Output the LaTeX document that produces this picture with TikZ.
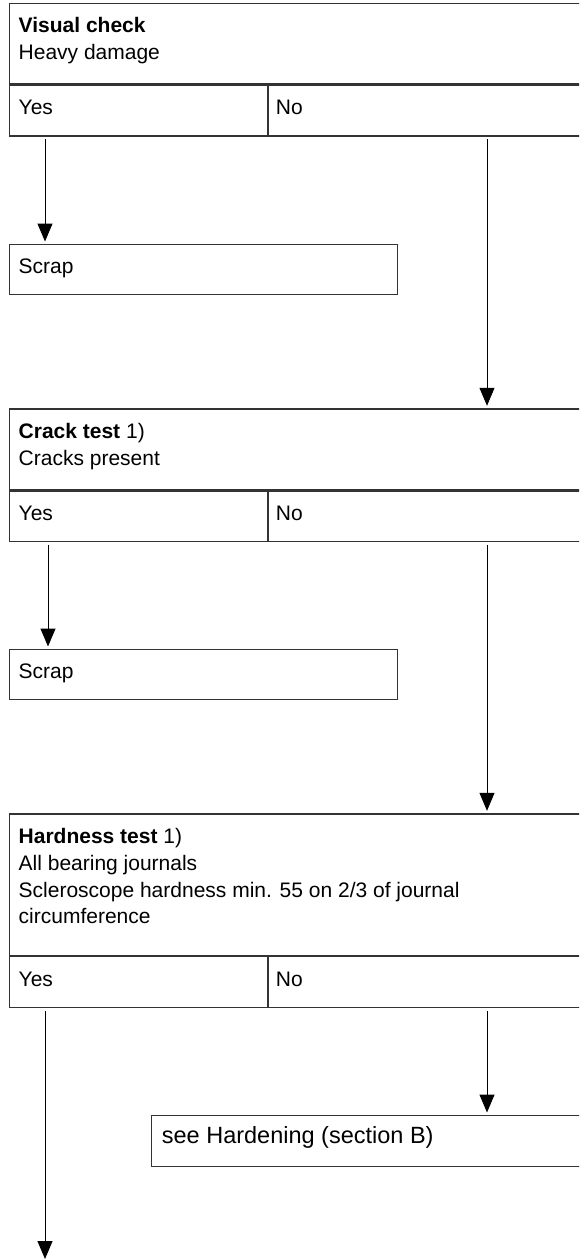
\documentclass[tikz,border=0pt]{standalone}
\usepackage{fontspec}
\setmainfont{Liberation Sans}
\usetikzlibrary{arrows.meta}
\tikzset{
  cell/.style 2 args={draw=black!80,line width=1.2pt,inner sep=0pt,anchor=north west,minimum width=#1pt,minimum height=#2pt},
  txt/.style={anchor=base west,inner sep=0pt,font=\fontsize{21}{26.7}\selectfont},
  arr/.style={line width=1pt,-{Triangle[width=15pt,length=18pt]},shorten <=2.5pt,shorten >=2.5pt}
}
\begin{document}
\begin{tikzpicture}[x=1pt,y=-1pt]
        \useasboundingbox (0,0) rectangle (579,1260);
        \clip (0,0) rectangle (579,1260);
        \coordinate (L) at (45,0);
        \coordinate (L2) at (48,0);
        \coordinate (R) at (487,0);
        \coordinate (out) at (45,1259);
        % visual check
        \node[cell={581.5}{80.6}] (vc) at (8.5,2.7) {};
        \node[cell={258.5}{51}] (vcy) at (vc.south west) {};
        \node[cell={323}{51}] (vcn) at (vcy.north east) {};
        \node[txt] (vct) at ([shift={(10,30)}]vc.north west) {\textbf{Visual check}};
        \node[txt] (vcd) at ([shift={(10,56.7)}]vc.north west) {Heavy damage};
        \node[txt] (vcyt) at ([shift={(10,30)}]vcy.north west) {Yes};
        \node[txt] (vcnt) at ([shift={(7.5,30)}]vcn.north west) {No};
        \node[cell={388.5}{50}] (scrapA) at (8.5,244) {};
        \node[txt] (scrapAt) at ([shift={(10,29.3)}]scrapA.north west) {Scrap};
        % crack test
        \node[cell={581.5}{81}] (ct) at (8.5,408.3) {};
        \node[cell={258.5}{50.7}] (cty) at (ct.south west) {};
        \node[cell={323}{50.7}] (ctn) at (cty.north east) {};
        \node[txt] (ctt) at ([shift={(10,30)}]ct.north west) {\textbf{Crack test} 1)};
        \node[txt] (ctd) at ([shift={(10,56.7)}]ct.north west) {Cracks present};
        \node[txt] (ctyt) at ([shift={(10,30)}]cty.north west) {Yes};
        \node[txt] (ctnt) at ([shift={(7.5,30)}]ctn.north west) {No};
        \node[cell={388.5}{50}] (scrapB) at (8.5,649) {};
        \node[txt] (scrapBt) at ([shift={(10,29.3)}]scrapB.north west) {Scrap};
        % hardness test
        \node[cell={581.5}{141.7}] (ht) at (8.5,813.3) {};
        \node[cell={258.5}{51}] (hty) at (ht.south west) {};
        \node[cell={323}{51}] (htn) at (hty.north east) {};
        \node[txt,align=left,anchor=north west] (htt) at ([shift={(10,15)}]ht.north west) {\textbf{Hardness test} 1)\\All bearing journals\\Scleroscope hardness min. 55 on 2/3 of journal\\circumference};
        \node[txt] (htyt) at ([shift={(10,30)}]hty.north west) {Yes};
        \node[txt] (htnt) at ([shift={(7.5,30)}]htn.north west) {No};
        \node[cell={439}{51}] (hard) at (151,1115) {};
        \node[txt,font=\fontsize{23.5}{28}\selectfont] (hardt) at ([shift={(10.7,28.5)}]hard.north west) {see Hardening (section B)};
        \draw[arr] (vcy.south -| L) -- (scrapA.north -| L);
        \draw[arr] (vcn.south -| R) -- (ct.north -| R);
        \draw[arr] (cty.south -| L2) -- (scrapB.north -| L2);
        \draw[arr] (ctn.south -| R) -- (ht.north -| R);
        \draw[arr] (htn.south -| R) -- (hard.north -| R);
        \draw[arr,shorten >=0pt] (hty.south -| L) -- (out);
\end{tikzpicture}
\end{document}
